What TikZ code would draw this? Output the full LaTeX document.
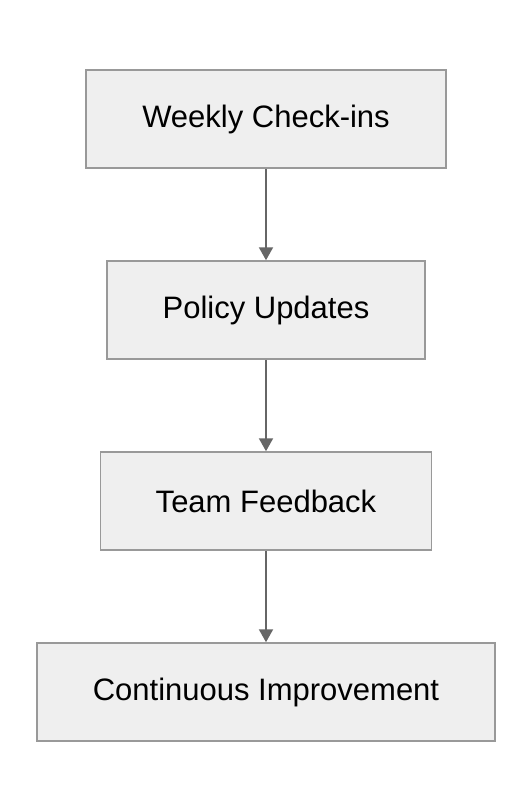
\documentclass[tikz,border=0pt]{standalone}
\usepackage{fontspec}
\setmainfont{Liberation Sans}
\usetikzlibrary{arrows.meta}
\definecolor{boxfill}{HTML}{EFEFEF}
\definecolor{boxline}{HTML}{999999}
\definecolor{arrowcol}{HTML}{666666}
\begin{document}
\begin{tikzpicture}[x=1pt,y=-1pt,
  flowbox/.style={draw=boxline,fill=boxfill,line width=1.5pt,minimum height=98pt,
    inner sep=0pt,font=\fontsize{31}{35}\selectfont,text=black,anchor=center},
  flowarrow/.style={draw=arrowcol,line width=2pt,-{Triangle[length=13pt,width=14pt]}}]
\useasboundingbox (0,0) rectangle (532,812);
\node[flowbox,minimum width=360pt] (a) at (266,119) {Weekly Check-ins};
\node[flowbox,minimum width=318pt] (b) at (266,310) {Policy Updates};
\node[flowbox,minimum width=331pt] (c) at (266,501) {Team Feedback};
\node[flowbox,minimum width=458pt] (d) at (266,692) {Continuous Improvement};
\draw[flowarrow] (a) -- (b);
\draw[flowarrow] (b) -- (c);
\draw[flowarrow] (c) -- (d);
\end{tikzpicture}
\end{document}
